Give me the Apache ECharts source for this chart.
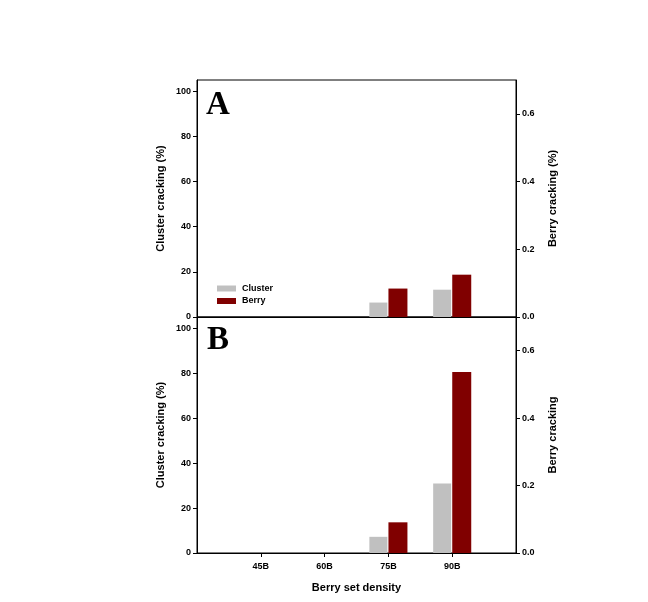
<!DOCTYPE html>
<html><head><meta charset="utf-8">
<script src="https://cdn.jsdelivr.net/npm/echarts@6/dist/echarts.min.js"></script>
<style>html,body{margin:0;padding:0;background:#fff}#c{width:648px;height:602px}</style>
</head><body><div id="c"></div>
<script>
const categories = ['', '45B', '60B', '75B', '90B', ''];
const clusterA = [null, 0, 0, 6.4, 12.1, null];
const berryA   = [null, 0, 0, 0.084, 0.125, null];
const clusterB = [null, 0, 0, 7.2, 30.9, null];
const berryB   = [null, 0, 0, 0.091, 0.537, null];
const leftTicks = [0, 20, 40, 60, 80, 100];
const rightTicks = [0, 0.2, 0.4, 0.6];

const FONT = 'Liberation Sans, Arial, sans-serif';
const lab = {fontFamily: FONT, fontWeight: 'bold', fontSize: 9, color: '#000'};
const nameStyle = {fontFamily: FONT, fontWeight: 'bold', fontSize: 11, color: '#000'};
const line = {show: true, lineStyle: {color: '#000', width: 1}};

function leftAxis(grid, name) {
  return {type: 'value', gridIndex: grid, position: 'left', min: 0, max: 105,
    name: name, nameLocation: 'middle', nameRotate: 90, nameGap: 31, nameTextStyle: nameStyle,
    axisLine: line, splitLine: {show: false},
    axisTick: {show: true, inside: false, length: 4, lineStyle: {color: '#000'}, customValues: leftTicks},
    axisLabel: Object.assign({margin: 6, customValues: leftTicks}, lab)};
}
function rightAxis(grid, name) {
  return {type: 'value', gridIndex: grid, position: 'right', min: 0, max: 0.7,
    name: name, nameLocation: 'middle', nameRotate: 90, nameGap: 31, nameTextStyle: nameStyle,
    axisLine: line, splitLine: {show: false},
    axisTick: {show: true, inside: false, length: 4, lineStyle: {color: '#000'}, customValues: rightTicks},
    axisLabel: Object.assign({margin: 6, customValues: rightTicks, formatter: v => v.toFixed(1)}, lab)};
}
const tickShow = (i) => i > 0 && i < categories.length - 1;

const chart = echarts.init(document.getElementById('c'), null, {renderer: 'canvas'});
chart.setOption({
  animation: false,
  backgroundColor: '#fff',
  grid: [
    {left: 197, top: 80, width: 319, height: 237, show: true, borderColor: '#000', borderWidth: 1},
    {left: 197, top: 317, width: 319, height: 236, show: true, borderColor: '#000', borderWidth: 1}
  ],
  legend: {
    data: ['Cluster', 'Berry'], orient: 'vertical', left: 212, top: 279,
    icon: 'rect', itemWidth: 19, itemHeight: 6, itemGap: 3.5,
    textStyle: Object.assign({}, lab, {padding: [0, 0, 0, 1]}), selectedMode: false
  },
  xAxis: [
    {type: 'category', gridIndex: 0, data: categories, boundaryGap: false,
      axisLine: line, axisTick: {show: false}, axisLabel: {show: false}},
    {type: 'category', gridIndex: 1, data: categories, boundaryGap: false,
      name: 'Berry set density', nameLocation: 'middle', nameGap: 29, nameTextStyle: nameStyle,
      axisLine: line, axisTick: {show: true, length: 4, interval: tickShow, lineStyle: {color: '#000'}},
      axisLabel: Object.assign({margin: 9, interval: 0}, lab)}
  ],
  yAxis: [
    leftAxis(0, 'Cluster cracking (%)'), rightAxis(0, 'Berry cracking (%)'),
    leftAxis(1, 'Cluster cracking (%)'), rightAxis(1, 'Berry cracking')
  ],
  series: [
    {name: 'Cluster', type: 'bar', xAxisIndex: 0, yAxisIndex: 0, data: clusterA, barWidth: 18, barGap: '6%', itemStyle: {color: '#C0C0C0'}},
    {name: 'Berry', type: 'bar', xAxisIndex: 0, yAxisIndex: 1, data: berryA, barWidth: 19, barGap: '6%', itemStyle: {color: '#800000'}},
    {name: 'Cluster', type: 'bar', xAxisIndex: 1, yAxisIndex: 2, data: clusterB, barWidth: 18, barGap: '6%', itemStyle: {color: '#C0C0C0'}},
    {name: 'Berry', type: 'bar', xAxisIndex: 1, yAxisIndex: 3, data: berryB, barWidth: 19, barGap: '6%', itemStyle: {color: '#800000'}}
  ],
  graphic: [
    {type: 'text', left: 206, top: 89, style: {text: 'A', font: 'bold 33px "Liberation Serif", "Times New Roman", serif', fill: '#000'}},
    {type: 'text', left: 207, top: 324, style: {text: 'B', font: 'bold 33px "Liberation Serif", "Times New Roman", serif', fill: '#000'}}
  ]
});
</script></body></html>
